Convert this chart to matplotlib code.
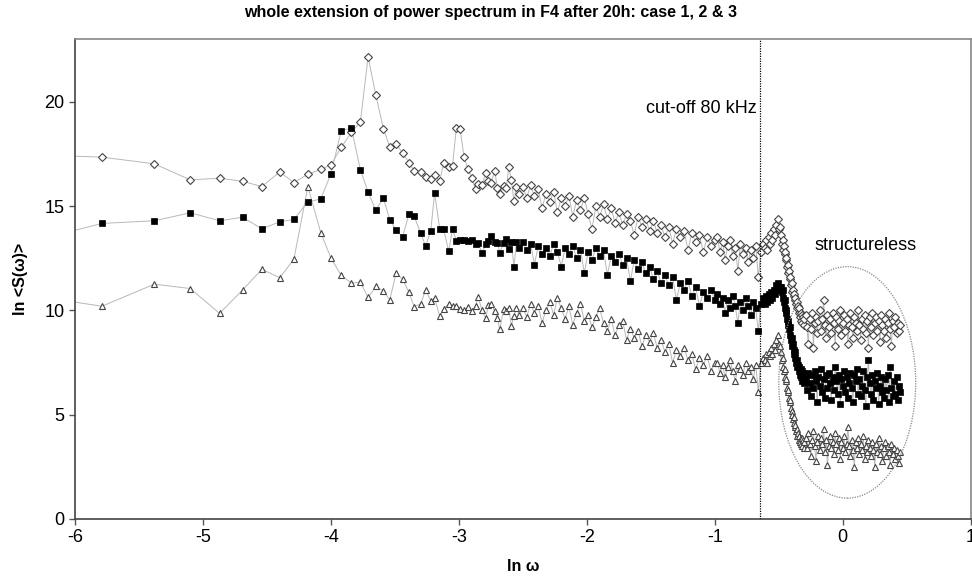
import matplotlib
matplotlib.use("Agg")
import matplotlib.pyplot as plt
from matplotlib.patches import Ellipse

plt.rcParams['font.family'] = ['Liberation Sans', 'DejaVu Sans']
plt.rcParams['axes.unicode_minus'] = False

# ln(omega), shared by all three cases
ln_w = [
    -6.48, -5.79, -5.38, -5.10, -4.87, -4.69, -4.54, -4.40, -4.29, -4.18,
    -4.08, -4.00, -3.92, -3.84, -3.77, -3.71, -3.65, -3.59, -3.54, -3.49,
    -3.44, -3.39, -3.35, -3.30, -3.26, -3.22, -3.19, -3.15, -3.12, -3.08,
    -3.05, -3.02, -2.99, -2.96, -2.93, -2.90, -2.87, -2.85, -2.82, -2.79,
    -2.77, -2.75, -2.72, -2.70, -2.68, -2.65, -2.63, -2.61, -2.59, -2.57,
    -2.55, -2.53,
    -2.50, -2.47, -2.44, -2.41, -2.38, -2.35, -2.32, -2.29, -2.26, -2.23,
    -2.20, -2.17, -2.14, -2.11, -2.08, -2.05, -2.02, -1.99, -1.96, -1.93,
    -1.90, -1.87, -1.84, -1.81, -1.78, -1.75, -1.72, -1.69, -1.66, -1.63,
    -1.60, -1.57, -1.54, -1.51, -1.48, -1.45, -1.42, -1.39, -1.36, -1.33,
    -1.30, -1.27, -1.24, -1.21, -1.18, -1.15, -1.12, -1.09, -1.06, -1.03,
    -1.00,
    -0.98, -0.96, -0.94, -0.92, -0.90, -0.88, -0.86, -0.84, -0.82, -0.80,
    -0.78, -0.76, -0.74, -0.72, -0.70, -0.68, -0.66, -0.64, -0.62,
    -0.61, -0.60, -0.59, -0.58, -0.57, -0.56, -0.55, -0.54, -0.53, -0.52,
    -0.51, -0.50, -0.49,
    -0.480, -0.475, -0.470, -0.465, -0.460, -0.455, -0.450, -0.445, -0.440, -0.435,
    -0.430, -0.425, -0.420, -0.415, -0.410, -0.405, -0.400, -0.395, -0.390, -0.385,
    -0.380, -0.375, -0.370, -0.365, -0.360, -0.355, -0.350, -0.345, -0.340, -0.335,
    -0.330, -0.325, -0.320, -0.315, -0.310, -0.305, -0.300,
    -0.29, -0.28, -0.27, -0.26, -0.25, -0.24, -0.23, -0.22, -0.21, -0.20,
    -0.19, -0.18, -0.17, -0.16, -0.15, -0.14, -0.13, -0.12, -0.11, -0.10,
    -0.09, -0.08, -0.07, -0.06, -0.05, -0.04, -0.03, -0.02, -0.01, 0.00,
    0.01, 0.02, 0.03, 0.04, 0.05, 0.06, 0.07, 0.08, 0.09, 0.10,
    0.11, 0.12, 0.13, 0.14, 0.15, 0.16, 0.17, 0.18, 0.19, 0.20,
    0.21, 0.22, 0.23, 0.24, 0.25, 0.26, 0.27, 0.28, 0.29, 0.30,
    0.31, 0.32, 0.33, 0.34, 0.35, 0.36, 0.37, 0.38, 0.39, 0.40,
    0.41, 0.42, 0.43, 0.44, 0.45,
]

# ln <S(omega)> -- open diamonds (top curve)
s_diamond = [
    17.50, 17.35, 17.03, 16.26, 16.34, 16.19, 15.94, 16.64, 16.13, 16.53,
    16.76, 16.98, 17.82, 18.54, 19.04, 22.15, 20.35, 18.71, 17.83, 17.99,
    17.54, 17.09, 16.67, 16.64, 16.42, 16.29, 16.47, 16.21, 17.05, 16.87,
    16.93, 18.75, 18.68, 17.35, 16.79, 16.37, 15.81, 16.08, 15.99, 16.58,
    16.21, 16.10, 16.69, 15.89, 15.57, 15.95, 15.86, 16.87, 16.23, 15.23,
    15.90, 15.60,
    15.9, 15.4, 16.0, 15.5, 15.8, 14.9, 15.6, 15.2, 15.7, 14.7,
    15.4, 15.0, 15.5, 14.5, 15.3, 14.8, 15.4, 14.6, 13.9, 15.0,
    14.5, 15.1, 14.4, 14.9, 14.2, 14.7, 14.1, 14.6, 14.3, 13.6,
    14.5, 14.0, 14.4, 13.8, 14.3, 13.7, 14.1, 13.5, 14.0, 13.2,
    13.9, 13.5, 13.8, 12.9, 13.7, 13.3, 13.6, 12.8, 13.5, 13.1,
    13.4,
    13.5, 12.8, 13.3, 12.4, 13.1, 13.4, 12.6, 13.0, 11.9, 13.2,
    12.7, 13.0, 12.3, 12.9, 12.5, 13.1, 11.6, 12.8, 13.2,
    13.0, 13.4, 12.9, 13.5, 13.2, 13.7, 13.4, 13.9, 13.6, 14.1,
    14.4, 13.9, 14.0,
    13.6, 13.2, 13.4, 12.9, 13.1, 12.7, 12.8, 12.4, 12.5, 12.1,
    12.2, 11.8, 11.9, 11.5, 11.6, 11.2, 11.3, 10.9, 11.0, 10.7,
    10.8, 10.5, 10.6, 10.3, 10.4, 10.1, 10.2, 9.9, 10.1, 9.7,
    9.9, 9.5, 9.8, 9.4, 9.7, 9.3, 9.6,
    9.8, 9.2, 8.4, 9.6, 9.1, 9.9, 8.2, 9.4, 9.7, 8.9,
    9.5, 10.0, 9.0, 9.6, 10.5, 9.3, 8.7, 9.8, 9.2, 9.6,
    8.9, 9.9, 9.4, 8.3, 9.7, 9.1, 9.5, 10.0, 8.8, 9.4,
    9.8, 9.0, 9.6, 8.4, 9.3, 9.9, 9.2, 8.7, 9.7, 9.4,
    9.0, 10.0, 9.3, 8.6, 9.6, 9.1, 9.8, 8.9, 9.5, 8.2,
    9.7, 9.2, 9.9, 8.8, 9.4, 9.7, 9.0, 9.5, 8.5, 9.8,
    9.3, 9.0, 9.6, 8.7, 9.4, 9.9, 9.1, 8.3, 9.5, 9.2,
    9.7, 8.9, 9.4, 9.0, 9.3,
]

# ln <S(omega)> -- filled squares (middle curve)
s_square = [
    13.10, 14.17, 14.30, 14.68, 14.30, 14.47, 13.91, 14.25, 14.36, 15.21,
    15.34, 16.55, 18.62, 18.73, 16.74, 15.68, 14.81, 15.37, 14.35, 13.85,
    13.53, 14.62, 14.52, 13.73, 13.08, 13.82, 15.63, 13.91, 13.91, 12.83,
    13.91, 13.33, 13.40, 13.40, 13.32, 13.40, 13.17, 13.24, 12.77, 13.17,
    13.33, 13.56, 13.29, 13.25, 12.77, 13.25, 13.41, 12.96, 13.29, 12.08,
    13.30, 13.00,
    13.3, 12.9, 13.2, 12.2, 13.1, 12.7, 13.0, 12.6, 13.2, 12.8,
    12.1, 13.0, 12.7, 13.1, 12.5, 12.9, 11.8, 12.8, 12.4, 13.0,
    12.6, 12.9, 11.7, 12.6, 12.3, 12.7, 12.2, 12.5, 11.4, 12.4,
    12.0, 12.3, 11.8, 12.1, 11.5, 11.9, 11.3, 11.7, 11.2, 11.6,
    10.5, 11.3, 11.0, 11.4, 10.7, 11.1, 10.2, 10.9, 10.6, 11.0,
    10.5,
    10.8, 10.3, 10.6, 9.9, 10.5, 10.1, 10.7, 10.2, 9.4, 10.4,
    10.0, 10.6, 10.2, 9.8, 10.4, 10.1, 9.0, 10.3, 10.6,
    10.3, 10.7, 10.4, 10.8, 10.5, 10.9, 10.6, 11.0, 10.8, 11.2,
    11.3, 11.0, 11.1,
    11.1, 10.9, 11.0, 10.6, 10.4, 10.5, 10.1, 9.9, 10.0, 9.6,
    9.5, 9.3, 9.1, 9.2, 8.8, 8.6, 8.7, 8.3, 8.4, 8.1,
    7.9, 8.0, 7.7, 7.5, 7.6, 7.3, 7.4, 7.1, 7.3, 6.9,
    7.2, 6.8, 7.1, 6.6, 7.0, 6.5, 6.9,
    6.8, 6.2, 7.0, 6.5, 5.9, 6.9, 6.3, 7.1, 6.6, 5.6,
    6.8, 6.4, 7.2, 6.1, 6.7, 5.8, 6.9, 6.3, 7.0, 6.5,
    5.7, 6.8, 6.2, 7.3, 6.6, 6.0, 6.9, 5.5, 6.7, 6.4,
    7.1, 6.1, 6.8, 5.8, 6.5, 7.0, 6.3, 5.6, 6.9, 6.6,
    7.2, 6.0, 6.7, 5.9, 6.4, 7.1, 6.2, 5.4, 6.8, 7.6,
    6.5, 6.0, 6.9, 5.7, 6.6, 6.3, 7.0, 5.5, 6.4, 6.8,
    6.1, 5.8, 6.7, 6.2, 6.9, 5.6, 7.3, 6.3, 5.9, 6.6,
    6.0, 6.8, 5.7, 6.4, 6.1,
]

# ln <S(omega)> -- open triangles (bottom curve)
s_triangle = [
    10.85, 10.20, 11.26, 11.05, 9.86, 10.99, 11.97, 11.57, 12.45, 15.94,
    13.73, 12.51, 11.68, 11.31, 11.36, 10.62, 11.15, 10.93, 10.51, 11.81,
    11.49, 10.86, 10.18, 10.31, 10.97, 10.47, 10.59, 9.72, 10.07, 10.30,
    10.23, 10.20, 10.09, 10.02, 10.15, 9.99, 10.20, 10.65, 10.02, 9.62,
    10.28, 10.31, 9.96, 9.62, 9.09, 10.09, 9.99, 10.10, 9.27, 9.75,
    10.10, 9.80,
    10.1, 9.7, 10.3, 9.9, 10.2, 9.4, 10.0, 10.4, 9.8, 10.6,
    10.1, 9.6, 10.2, 9.3, 9.9, 10.3, 9.5, 9.8, 9.2, 9.7,
    10.1, 9.4, 9.0, 9.6, 8.8, 9.3, 9.5, 8.6, 9.1, 8.7,
    9.0, 8.3, 8.8, 8.5, 8.9, 8.2, 8.6, 8.0, 8.4, 7.5,
    8.1, 7.8, 8.2, 7.6, 7.9, 7.2, 7.7, 7.4, 7.8, 7.1,
    7.5,
    7.5, 7.0, 7.4, 6.8, 7.3, 7.6, 7.1, 6.6, 7.4, 7.2,
    6.9, 7.5, 7.1, 7.3, 6.7, 7.4, 6.1, 7.5, 7.7,
    7.6, 7.9, 7.5, 8.0, 7.8, 8.2, 7.9, 8.4, 8.1, 8.6,
    8.8, 8.4, 8.3,
    8.0, 7.6, 7.7, 7.3, 7.1, 7.2, 6.8, 6.6, 6.7, 6.3,
    6.1, 6.2, 5.8, 5.6, 5.7, 5.3, 5.2, 5.0, 4.8, 4.9,
    4.6, 4.4, 4.5, 4.2, 4.3, 4.0, 4.1, 3.8, 4.0, 3.7,
    3.9, 3.6, 3.9, 3.5, 3.8, 3.4, 3.7,
    3.9, 3.4, 4.1, 3.6, 3.0, 3.8, 4.2, 3.5, 2.8, 3.7,
    4.0, 3.3, 3.9, 3.6, 4.3, 3.2, 3.8, 2.6, 3.5, 4.0,
    3.4, 3.7, 3.1, 4.1, 3.6, 3.3, 3.9, 2.9, 3.7, 3.4,
    4.0, 3.2, 3.6, 4.4, 3.5, 3.0, 3.8, 3.3, 2.5, 3.7,
    3.4, 3.9, 3.1, 3.6, 3.3, 4.0, 2.9, 3.5, 3.2, 3.8,
    3.4, 3.0, 3.7, 3.3, 2.5, 3.6, 3.2, 3.9, 3.1, 3.5,
    2.8, 3.4, 3.7, 3.0, 3.5, 3.2, 2.6, 3.6, 3.1, 3.4,
    2.9, 3.3, 3.0, 2.7, 3.2,
]

cutoff = -0.65
x_ticks = [-6, -5, -4, -3, -2, -1, 0, 1]
y_ticks = [0, 5, 10, 15, 20]

fig = plt.figure(figsize=(9.72, 5.83), dpi=100)
ax = fig.add_axes([0.0772, 0.1098, 0.9215, 0.8228])

# thin grey connecting lines first
for s in (s_triangle, s_diamond, s_square):
    ax.plot(ln_w, s, color='#b8b8b8', lw=0.7, zorder=1)

ax.plot(ln_w, s_triangle, ls='none', marker='^', ms=4.5, mfc='white',
        mec='#444444', mew=0.8, zorder=2)
ax.plot(ln_w, s_diamond, ls='none', marker='D', ms=4, mfc='white',
        mec='#444444', mew=0.8, zorder=3)
ax.plot(ln_w, s_square, ls='none', marker='s', ms=4.6, mfc='black',
        mec='black', mew=0.5, zorder=4)

ax.axvline(cutoff, color='black', lw=0.9, ls=(0, (1, 1)), zorder=5)
ax.add_patch(Ellipse((0.035, 6.55), 1.07, 11.1, fill=False,
                     ec='#888888', lw=0.9, ls=(0, (1, 1)), zorder=5))

ax.text(cutoff - 0.02, 19.7, 'cut-off 80 kHz', ha='right', va='center', fontsize=13)
ax.text(-0.22, 13.1, 'structureless', ha='left', va='center', fontsize=13)

ax.set_xlim(-6, 1)
ax.set_ylim(0, 23)
ax.set_xticks(x_ticks)
ax.set_yticks(y_ticks)
ax.tick_params(direction='out', length=4, width=1, colors='#555555',
               labelcolor='black', labelsize=13)
for name in ('left', 'bottom'):
    ax.spines[name].set_color('#444444')
    ax.spines[name].set_linewidth(1.2)
for name in ('top', 'right'):
    ax.spines[name].set_color('#888888')
    ax.spines[name].set_linewidth(1.2)

ax.set_xlabel('ln ω', fontsize=11.5, fontweight='bold', labelpad=9)
ax.set_ylabel('ln <S(ω)>', fontsize=11.5, fontweight='bold', labelpad=12)
fig.text(0.505, 0.979, 'whole extension of power spectrum in F4 after 20h: case 1, 2 & 3',
         ha='center', va='center', fontsize=11.5, fontweight='bold',
         family=['Liberation Sans Narrow', 'Liberation Sans', 'DejaVu Sans'])

fig.savefig('out.png', dpi=100)
